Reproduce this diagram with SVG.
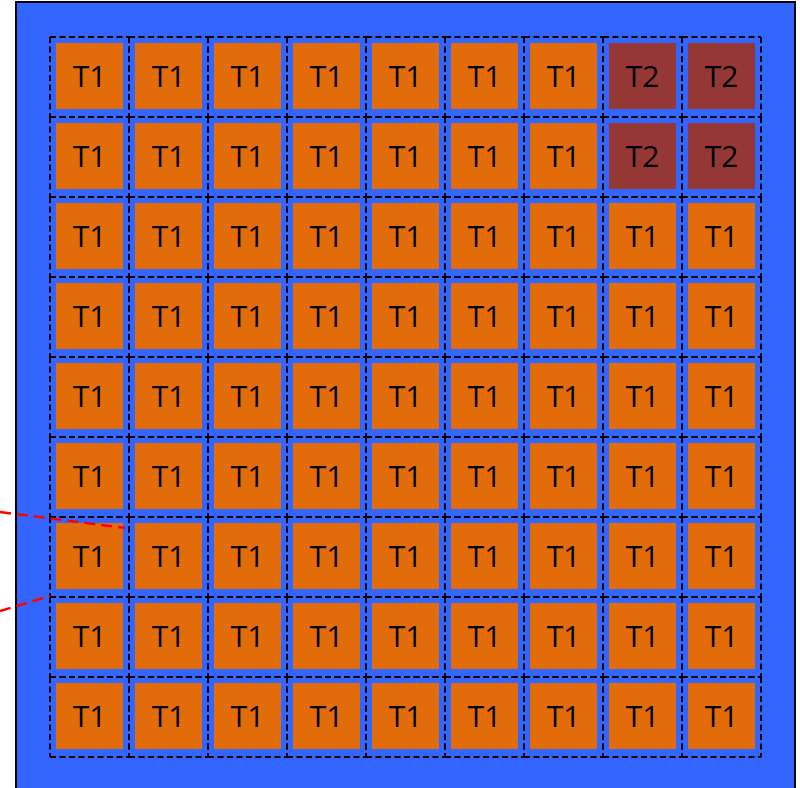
<svg xmlns="http://www.w3.org/2000/svg" width="800" height="788" viewBox="0 0 800 788">
<style>
.cell{fill:none;stroke:#000;stroke-width:2;stroke-dasharray:6 3.5}
.t1{fill:#e36c0a}
.t2{fill:#953735}
text{font-family:"Open Sans","Liberation Sans",Arial,sans-serif;font-size:30px;text-anchor:middle;fill:#000}
.red{fill:none;stroke:#ff0000;stroke-width:2.5;stroke-dasharray:11 6}
</style>
<defs>
<path id="box" class="cell" d="M0,0H79M0,80H79M0,0V80M79,0V80"/>
</defs>
<rect x="16" y="2" width="779" height="800" fill="#3366ff" stroke="#000" stroke-width="2"/>
<g id="grid">
<g id="r0c0" transform="translate(50,37)"><use href="#box"/><rect class="t1" x="6" y="6" width="67" height="66"/><text x="39.5" y="50">T1</text></g>
<g id="r0c1" transform="translate(129,37)"><use href="#box"/><rect class="t1" x="6" y="6" width="67" height="66"/><text x="39.5" y="50">T1</text></g>
<g id="r0c2" transform="translate(208,37)"><use href="#box"/><rect class="t1" x="6" y="6" width="67" height="66"/><text x="39.5" y="50">T1</text></g>
<g id="r0c3" transform="translate(287,37)"><use href="#box"/><rect class="t1" x="6" y="6" width="67" height="66"/><text x="39.5" y="50">T1</text></g>
<g id="r0c4" transform="translate(366,37)"><use href="#box"/><rect class="t1" x="6" y="6" width="67" height="66"/><text x="39.5" y="50">T1</text></g>
<g id="r0c5" transform="translate(445,37)"><use href="#box"/><rect class="t1" x="6" y="6" width="67" height="66"/><text x="39.5" y="50">T1</text></g>
<g id="r0c6" transform="translate(524,37)"><use href="#box"/><rect class="t1" x="6" y="6" width="67" height="66"/><text x="39.5" y="50">T1</text></g>
<g id="r0c7" transform="translate(603,37)"><use href="#box"/><rect class="t2" x="6" y="6" width="67" height="66"/><text x="39.5" y="50">T2</text></g>
<g id="r0c8" transform="translate(682,37)"><use href="#box"/><rect class="t2" x="6" y="6" width="67" height="66"/><text x="39.5" y="50">T2</text></g>

<g id="r1c0" transform="translate(50,117)"><use href="#box"/><rect class="t1" x="6" y="6" width="67" height="66"/><text x="39.5" y="50">T1</text></g>
<g id="r1c1" transform="translate(129,117)"><use href="#box"/><rect class="t1" x="6" y="6" width="67" height="66"/><text x="39.5" y="50">T1</text></g>
<g id="r1c2" transform="translate(208,117)"><use href="#box"/><rect class="t1" x="6" y="6" width="67" height="66"/><text x="39.5" y="50">T1</text></g>
<g id="r1c3" transform="translate(287,117)"><use href="#box"/><rect class="t1" x="6" y="6" width="67" height="66"/><text x="39.5" y="50">T1</text></g>
<g id="r1c4" transform="translate(366,117)"><use href="#box"/><rect class="t1" x="6" y="6" width="67" height="66"/><text x="39.5" y="50">T1</text></g>
<g id="r1c5" transform="translate(445,117)"><use href="#box"/><rect class="t1" x="6" y="6" width="67" height="66"/><text x="39.5" y="50">T1</text></g>
<g id="r1c6" transform="translate(524,117)"><use href="#box"/><rect class="t1" x="6" y="6" width="67" height="66"/><text x="39.5" y="50">T1</text></g>
<g id="r1c7" transform="translate(603,117)"><use href="#box"/><rect class="t2" x="6" y="6" width="67" height="66"/><text x="39.5" y="50">T2</text></g>
<g id="r1c8" transform="translate(682,117)"><use href="#box"/><rect class="t2" x="6" y="6" width="67" height="66"/><text x="39.5" y="50">T2</text></g>

<g id="r2c0" transform="translate(50,197)"><use href="#box"/><rect class="t1" x="6" y="6" width="67" height="66"/><text x="39.5" y="50">T1</text></g>
<g id="r2c1" transform="translate(129,197)"><use href="#box"/><rect class="t1" x="6" y="6" width="67" height="66"/><text x="39.5" y="50">T1</text></g>
<g id="r2c2" transform="translate(208,197)"><use href="#box"/><rect class="t1" x="6" y="6" width="67" height="66"/><text x="39.5" y="50">T1</text></g>
<g id="r2c3" transform="translate(287,197)"><use href="#box"/><rect class="t1" x="6" y="6" width="67" height="66"/><text x="39.5" y="50">T1</text></g>
<g id="r2c4" transform="translate(366,197)"><use href="#box"/><rect class="t1" x="6" y="6" width="67" height="66"/><text x="39.5" y="50">T1</text></g>
<g id="r2c5" transform="translate(445,197)"><use href="#box"/><rect class="t1" x="6" y="6" width="67" height="66"/><text x="39.5" y="50">T1</text></g>
<g id="r2c6" transform="translate(524,197)"><use href="#box"/><rect class="t1" x="6" y="6" width="67" height="66"/><text x="39.5" y="50">T1</text></g>
<g id="r2c7" transform="translate(603,197)"><use href="#box"/><rect class="t1" x="6" y="6" width="67" height="66"/><text x="39.5" y="50">T1</text></g>
<g id="r2c8" transform="translate(682,197)"><use href="#box"/><rect class="t1" x="6" y="6" width="67" height="66"/><text x="39.5" y="50">T1</text></g>

<g id="r3c0" transform="translate(50,277)"><use href="#box"/><rect class="t1" x="6" y="6" width="67" height="66"/><text x="39.5" y="50">T1</text></g>
<g id="r3c1" transform="translate(129,277)"><use href="#box"/><rect class="t1" x="6" y="6" width="67" height="66"/><text x="39.5" y="50">T1</text></g>
<g id="r3c2" transform="translate(208,277)"><use href="#box"/><rect class="t1" x="6" y="6" width="67" height="66"/><text x="39.5" y="50">T1</text></g>
<g id="r3c3" transform="translate(287,277)"><use href="#box"/><rect class="t1" x="6" y="6" width="67" height="66"/><text x="39.5" y="50">T1</text></g>
<g id="r3c4" transform="translate(366,277)"><use href="#box"/><rect class="t1" x="6" y="6" width="67" height="66"/><text x="39.5" y="50">T1</text></g>
<g id="r3c5" transform="translate(445,277)"><use href="#box"/><rect class="t1" x="6" y="6" width="67" height="66"/><text x="39.5" y="50">T1</text></g>
<g id="r3c6" transform="translate(524,277)"><use href="#box"/><rect class="t1" x="6" y="6" width="67" height="66"/><text x="39.5" y="50">T1</text></g>
<g id="r3c7" transform="translate(603,277)"><use href="#box"/><rect class="t1" x="6" y="6" width="67" height="66"/><text x="39.5" y="50">T1</text></g>
<g id="r3c8" transform="translate(682,277)"><use href="#box"/><rect class="t1" x="6" y="6" width="67" height="66"/><text x="39.5" y="50">T1</text></g>

<g id="r4c0" transform="translate(50,357)"><use href="#box"/><rect class="t1" x="6" y="6" width="67" height="66"/><text x="39.5" y="50">T1</text></g>
<g id="r4c1" transform="translate(129,357)"><use href="#box"/><rect class="t1" x="6" y="6" width="67" height="66"/><text x="39.5" y="50">T1</text></g>
<g id="r4c2" transform="translate(208,357)"><use href="#box"/><rect class="t1" x="6" y="6" width="67" height="66"/><text x="39.5" y="50">T1</text></g>
<g id="r4c3" transform="translate(287,357)"><use href="#box"/><rect class="t1" x="6" y="6" width="67" height="66"/><text x="39.5" y="50">T1</text></g>
<g id="r4c4" transform="translate(366,357)"><use href="#box"/><rect class="t1" x="6" y="6" width="67" height="66"/><text x="39.5" y="50">T1</text></g>
<g id="r4c5" transform="translate(445,357)"><use href="#box"/><rect class="t1" x="6" y="6" width="67" height="66"/><text x="39.5" y="50">T1</text></g>
<g id="r4c6" transform="translate(524,357)"><use href="#box"/><rect class="t1" x="6" y="6" width="67" height="66"/><text x="39.5" y="50">T1</text></g>
<g id="r4c7" transform="translate(603,357)"><use href="#box"/><rect class="t1" x="6" y="6" width="67" height="66"/><text x="39.5" y="50">T1</text></g>
<g id="r4c8" transform="translate(682,357)"><use href="#box"/><rect class="t1" x="6" y="6" width="67" height="66"/><text x="39.5" y="50">T1</text></g>

<g id="r5c0" transform="translate(50,437)"><use href="#box"/><rect class="t1" x="6" y="6" width="67" height="66"/><text x="39.5" y="50">T1</text></g>
<g id="r5c1" transform="translate(129,437)"><use href="#box"/><rect class="t1" x="6" y="6" width="67" height="66"/><text x="39.5" y="50">T1</text></g>
<g id="r5c2" transform="translate(208,437)"><use href="#box"/><rect class="t1" x="6" y="6" width="67" height="66"/><text x="39.5" y="50">T1</text></g>
<g id="r5c3" transform="translate(287,437)"><use href="#box"/><rect class="t1" x="6" y="6" width="67" height="66"/><text x="39.5" y="50">T1</text></g>
<g id="r5c4" transform="translate(366,437)"><use href="#box"/><rect class="t1" x="6" y="6" width="67" height="66"/><text x="39.5" y="50">T1</text></g>
<g id="r5c5" transform="translate(445,437)"><use href="#box"/><rect class="t1" x="6" y="6" width="67" height="66"/><text x="39.5" y="50">T1</text></g>
<g id="r5c6" transform="translate(524,437)"><use href="#box"/><rect class="t1" x="6" y="6" width="67" height="66"/><text x="39.5" y="50">T1</text></g>
<g id="r5c7" transform="translate(603,437)"><use href="#box"/><rect class="t1" x="6" y="6" width="67" height="66"/><text x="39.5" y="50">T1</text></g>
<g id="r5c8" transform="translate(682,437)"><use href="#box"/><rect class="t1" x="6" y="6" width="67" height="66"/><text x="39.5" y="50">T1</text></g>

<g id="r6c0" transform="translate(50,517)"><use href="#box"/><rect class="t1" x="6" y="6" width="67" height="66"/><text x="39.5" y="50">T1</text></g>
<g id="r6c1" transform="translate(129,517)"><use href="#box"/><rect class="t1" x="6" y="6" width="67" height="66"/><text x="39.5" y="50">T1</text></g>
<g id="r6c2" transform="translate(208,517)"><use href="#box"/><rect class="t1" x="6" y="6" width="67" height="66"/><text x="39.5" y="50">T1</text></g>
<g id="r6c3" transform="translate(287,517)"><use href="#box"/><rect class="t1" x="6" y="6" width="67" height="66"/><text x="39.5" y="50">T1</text></g>
<g id="r6c4" transform="translate(366,517)"><use href="#box"/><rect class="t1" x="6" y="6" width="67" height="66"/><text x="39.5" y="50">T1</text></g>
<g id="r6c5" transform="translate(445,517)"><use href="#box"/><rect class="t1" x="6" y="6" width="67" height="66"/><text x="39.5" y="50">T1</text></g>
<g id="r6c6" transform="translate(524,517)"><use href="#box"/><rect class="t1" x="6" y="6" width="67" height="66"/><text x="39.5" y="50">T1</text></g>
<g id="r6c7" transform="translate(603,517)"><use href="#box"/><rect class="t1" x="6" y="6" width="67" height="66"/><text x="39.5" y="50">T1</text></g>
<g id="r6c8" transform="translate(682,517)"><use href="#box"/><rect class="t1" x="6" y="6" width="67" height="66"/><text x="39.5" y="50">T1</text></g>

<g id="r7c0" transform="translate(50,597)"><use href="#box"/><rect class="t1" x="6" y="6" width="67" height="66"/><text x="39.5" y="50">T1</text></g>
<g id="r7c1" transform="translate(129,597)"><use href="#box"/><rect class="t1" x="6" y="6" width="67" height="66"/><text x="39.5" y="50">T1</text></g>
<g id="r7c2" transform="translate(208,597)"><use href="#box"/><rect class="t1" x="6" y="6" width="67" height="66"/><text x="39.5" y="50">T1</text></g>
<g id="r7c3" transform="translate(287,597)"><use href="#box"/><rect class="t1" x="6" y="6" width="67" height="66"/><text x="39.5" y="50">T1</text></g>
<g id="r7c4" transform="translate(366,597)"><use href="#box"/><rect class="t1" x="6" y="6" width="67" height="66"/><text x="39.5" y="50">T1</text></g>
<g id="r7c5" transform="translate(445,597)"><use href="#box"/><rect class="t1" x="6" y="6" width="67" height="66"/><text x="39.5" y="50">T1</text></g>
<g id="r7c6" transform="translate(524,597)"><use href="#box"/><rect class="t1" x="6" y="6" width="67" height="66"/><text x="39.5" y="50">T1</text></g>
<g id="r7c7" transform="translate(603,597)"><use href="#box"/><rect class="t1" x="6" y="6" width="67" height="66"/><text x="39.5" y="50">T1</text></g>
<g id="r7c8" transform="translate(682,597)"><use href="#box"/><rect class="t1" x="6" y="6" width="67" height="66"/><text x="39.5" y="50">T1</text></g>

<g id="r8c0" transform="translate(50,677)"><use href="#box"/><rect class="t1" x="6" y="6" width="67" height="66"/><text x="39.5" y="50">T1</text></g>
<g id="r8c1" transform="translate(129,677)"><use href="#box"/><rect class="t1" x="6" y="6" width="67" height="66"/><text x="39.5" y="50">T1</text></g>
<g id="r8c2" transform="translate(208,677)"><use href="#box"/><rect class="t1" x="6" y="6" width="67" height="66"/><text x="39.5" y="50">T1</text></g>
<g id="r8c3" transform="translate(287,677)"><use href="#box"/><rect class="t1" x="6" y="6" width="67" height="66"/><text x="39.5" y="50">T1</text></g>
<g id="r8c4" transform="translate(366,677)"><use href="#box"/><rect class="t1" x="6" y="6" width="67" height="66"/><text x="39.5" y="50">T1</text></g>
<g id="r8c5" transform="translate(445,677)"><use href="#box"/><rect class="t1" x="6" y="6" width="67" height="66"/><text x="39.5" y="50">T1</text></g>
<g id="r8c6" transform="translate(524,677)"><use href="#box"/><rect class="t1" x="6" y="6" width="67" height="66"/><text x="39.5" y="50">T1</text></g>
<g id="r8c7" transform="translate(603,677)"><use href="#box"/><rect class="t1" x="6" y="6" width="67" height="66"/><text x="39.5" y="50">T1</text></g>
<g id="r8c8" transform="translate(682,677)"><use href="#box"/><rect class="t1" x="6" y="6" width="67" height="66"/><text x="39.5" y="50">T1</text></g>
</g>
<g id="connectors">
<line class="red" x1="0" y1="512" x2="125" y2="528"/>
<line class="red" x1="0" y1="611" x2="50" y2="596"/>
</g>
</svg>
